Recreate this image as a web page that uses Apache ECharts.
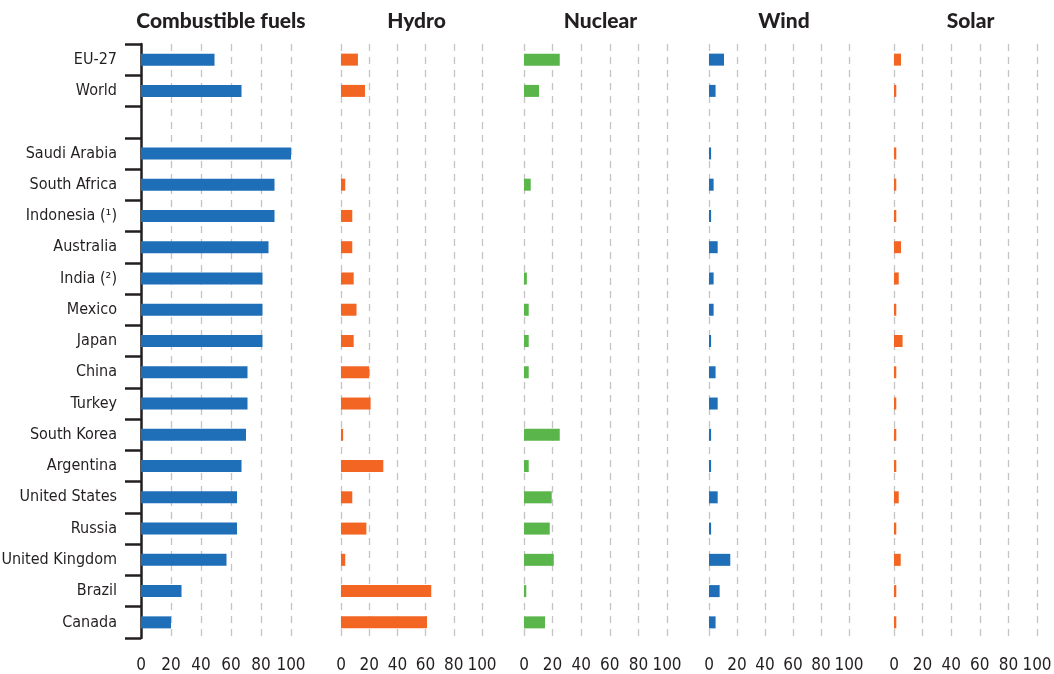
<!DOCTYPE html>
<html>
<head>
<meta charset="utf-8">
<script src="https://cdn.jsdelivr.net/npm/echarts@6/dist/echarts.min.js"></script>
<style>
html,body{margin:0;padding:0;background:#fff;}
#chart{width:1054px;height:674px;}
</style>
</head>
<body>
<div id="chart"></div>
<script>
const categories = ['EU-27','World','','Saudi Arabia','South Africa','Indonesia (¹)','Australia','India (²)','Mexico','Japan','China','Turkey','South Korea','Argentina','United States','Russia','United Kingdom','Brazil','Canada'];
const panelTitles = ['Combustible fuels','Hydro','Nuclear','Wind','Solar'];
const xTicks = [0,20,40,60,80,100];
const combustible = [49,67,null,100,89,89,85,81,81,81,71,71,70,67,64,64,57,27,20];
const hydro = [12,17,null,null,3,8,8,9,11,9,20,21,1.5,30,8,18,3,64,61];
const nuclear = [25,10.5,null,null,4.7,null,null,2,3.3,3.3,3.3,null,25,3.3,19.4,18,20.8,1.6,14.7];
const wind = [10.7,4.7,null,1.5,3.3,1.5,6.2,3.3,3.3,1.5,4.7,6.2,1.5,1.5,6.2,1.5,15.2,7.6,4.7];
const solar = [4.9,1.6,null,1.6,1.6,1.6,4.9,3.3,1.6,6,1.6,1.6,1.6,1.6,3.3,1.6,4.7,1.6,1.6];

(function () {
const seriesData = [combustible, hydro, nuclear, wind, solar];
const colors = ['#1f6fb8','#f26522','#5ab54a','#1f6fb8','#f26522'];
const lefts = [141,341,524,709,894];
const widths = [150,141,143,140,143];
const gridTop = 44, gridBottom = 36;
const labelFont = "'DejaVu Sans Condensed','Liberation Sans Narrow',sans-serif";

const grids = [], xAxes = [], yAxes = [], series = [], titles = [];
for (let i = 0; i < 5; i++) {
  grids.push({left: lefts[i], width: widths[i], top: gridTop, bottom: gridBottom,
    containLabel: false, outerBoundsMode: 'none'});
  titles.push({
    text: panelTitles[i],
    left: lefts[i] + widths[i] / 2,
    top: 6,
    textAlign: 'center',
    textStyle: {fontFamily: 'Lato', fontWeight: 900, fontSize: 21, color: '#231f20'}
  });
  xAxes.push({
    type: 'value', gridIndex: i, min: 0, max: 100, interval: 20,
    axisLine: {show: false}, axisTick: {show: false},
    axisLabel: {fontFamily: labelFont, fontSize: 17, color: '#231f20', margin: 19,
      formatter: v => xTicks.includes(v) ? String(v) : ''},
    splitLine: {show: true, lineStyle: {color: '#c4c4c4', type: [7, 6], width: 1.3}}
  });
  yAxes.push({
    type: 'category', gridIndex: i, data: categories, inverse: true,
    axisLine: {show: i === 0, lineStyle: {color: '#231f20', width: 2.5}},
    axisTick: {show: i === 0, length: 16, lineStyle: {color: '#231f20', width: 2.5}},
    axisLabel: {show: i === 0, fontFamily: labelFont, fontSize: 16, color: '#231f20', margin: 24},
    splitLine: {show: false}
  });
  series.push({
    type: 'bar', xAxisIndex: i, yAxisIndex: i, data: seriesData[i],
    barWidth: 12, itemStyle: {color: colors[i]}, silent: true
  });
}

const chart = echarts.init(document.getElementById('chart'), null, {renderer: 'canvas'});
chart.setOption({
  animation: false,
  backgroundColor: '#fff',
  title: titles,
  grid: grids,
  xAxis: xAxes,
  yAxis: yAxes,
  series: series
});
})();
</script>
</body>
</html>
